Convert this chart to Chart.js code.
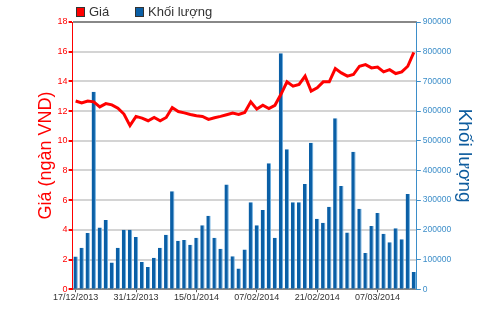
<!DOCTYPE html>
<html lang="vi">
<head>
<meta charset="UTF-8">
<title>Giá và khối lượng</title>
<script src="https://cdn.jsdelivr.net/npm/chart.js"></script>
<style>
  body { margin: 0; background: #fff; }
  .wrap { position: relative; width: 500px; height: 312px; }
  .legend { position: absolute; top: 4px; font: 13px "Liberation Sans", Arial, sans-serif; color: #333; display: flex; align-items: center; }
  .legend i { display: inline-block; width: 7px; height: 8px; border: 1px solid #333; margin-right: 4px; }
</style>
</head>
<body>
<div class="wrap">
  <canvas id="priceChart" width="500" height="312"></canvas>
  <div class="legend" style="left:76px"><i style="background:#ff0000"></i>Giá</div>
  <div class="legend" style="left:135px"><i style="background:#0a5fa6"></i>Khối lượng</div>
</div>

<script>
// trading days shown on the x axis (every 10th gets a label)
const dates = [
  "17/12/2013", "18/12/2013", "19/12/2013", "20/12/2013", "23/12/2013", "24/12/2013", "25/12/2013", "26/12/2013", "27/12/2013", "30/12/2013",
  "31/12/2013", "02/01/2014", "03/01/2014", "06/01/2014", "07/01/2014", "08/01/2014", "09/01/2014", "10/01/2014", "13/01/2014", "14/01/2014",
  "15/01/2014", "16/01/2014", "17/01/2014", "20/01/2014", "21/01/2014", "22/01/2014", "23/01/2014", "24/01/2014", "27/01/2014", "28/01/2014",
  "07/02/2014", "10/02/2014", "11/02/2014", "12/02/2014", "13/02/2014", "14/02/2014", "17/02/2014", "18/02/2014", "19/02/2014", "20/02/2014",
  "21/02/2014", "24/02/2014", "25/02/2014", "26/02/2014", "27/02/2014", "28/02/2014", "03/03/2014", "04/03/2014", "05/03/2014", "06/03/2014",
  "07/03/2014", "10/03/2014", "11/03/2014", "12/03/2014", "13/03/2014", "14/03/2014", "17/03/2014"
];

// price (thousand VND)
const price = [
  12.68, 12.55, 12.68, 12.62, 12.28, 12.5, 12.42, 12.2, 11.8, 11.02,
  11.64, 11.53, 11.35, 11.57, 11.35, 11.57, 12.24, 11.97, 11.88, 11.77,
  11.68, 11.64, 11.44, 11.55, 11.64, 11.75, 11.86, 11.77, 11.9, 12.62,
  12.13, 12.39, 12.17, 12.39, 13.13, 13.97, 13.68, 13.79, 14.35, 13.35,
  13.57, 13.97, 13.97, 14.86, 14.57, 14.35, 14.46, 15.02, 15.13, 14.91,
  14.97, 14.64, 14.79, 14.53, 14.64, 15.02, 15.95
];

// traded volume
const volume = [
  110000, 140000, 189000, 665000, 208000, 233000, 90000, 140000, 200000, 200000,
  176000, 92000, 75000, 106000, 140000, 183000, 330000, 163000, 166000, 150000,
  173000, 215000, 247000, 173000, 136000, 353000, 111000, 70000, 134000, 293000,
  215000, 267000, 424000, 173000, 795000, 471000, 293000, 293000, 354000, 493000,
  237000, 224000, 278000, 576000, 348000, 191000, 463000, 271000, 122000, 213000,
  257000, 187000, 158000, 205000, 168000, 321000, 58000
];

const tickFont = "'Liberation Sans', Arial, sans-serif";

const ctx = document.getElementById("priceChart").getContext("2d");
new Chart(ctx, {
    type: "bar",
    data: {
        labels: dates,
        datasets: [
            {
                type: "line",
                label: "Giá",
                data: price,
                yAxisID: "y",
                borderColor: "#ff0000",
                borderWidth: 3,
                pointRadius: 0,
                tension: 0,
                order: 0
            },
            {
                label: "Khối lượng",
                data: volume,
                yAxisID: "y1",
                backgroundColor: "#0a5fa6",
                borderColor: "#6aaee0",
                borderWidth: { left: 0, right: 1, top: 0, bottom: 0 },
                barPercentage: 0.72,
                categoryPercentage: 1,
                order: 1
            }
        ]
    },
    options: {
        responsive: false,
        animation: false,
        layout: { padding: { top: 22, left: 35, right: 24, bottom: 9 } },
        plugins: {
            legend: { display: false },
            tooltip: { enabled: false }
        },
        scales: {
            x: {
                offset: true,
                grid: {
                    offset: false,
                    drawOnChartArea: false,
                    tickLength: 3,
                    tickColor: "#555"
                },
                border: { color: "#888", width: 2 },
                ticks: {
                    autoSkip: false,
                    maxRotation: 0,
                    padding: 0,
                    color: "#333",
                    font: { family: tickFont, size: 9 },
                    callback: (v, i) => (i % 10 === 0 ? dates[i] : null)
                }
            },
            y: {
                position: "left",
                min: 0,
                max: 18,
                ticks: { stepSize: 2, color: "#ff0000", padding: 1, font: { family: tickFont, size: 9 } },
                grid: {
                    color: c => (c.tick && c.tick.value === 18 ? "#888" : "#d4d4d4"),
                    lineWidth: 2,
                    tickColor: "#ff0000",
                    tickLength: 4
                },
                border: { color: "#ff0000", width: 1 },
                title: {
                    display: true,
                    text: "Giá (ngàn VND)",
                    color: "#ff0000",
                    font: { family: "'Liberation Sans', Arial, sans-serif", size: 18 },
                    padding: { top: 0, bottom: 0 }
                }
            },
            y1: {
                position: "right",
                min: 0,
                max: 900000,
                ticks: {
                    stepSize: 100000,
                    color: "#3d8ec9",
                    padding: 2,
                    font: { family: tickFont, size: 8.5 },
                    callback: v => String(v)
                },
                grid: { drawOnChartArea: false, tickColor: "#3d8ec9", tickLength: 4 },
                border: { color: "#3d8ec9", width: 1 },
                title: {
                    display: true,
                    text: "Khối lượng",
                    color: "#0e5c9e",
                    font: { family: "'Liberation Sans', Arial, sans-serif", size: 19 },
                    padding: { top: 0, bottom: 0 }
                }
            }
        }
    }
});
</script>
</body>
</html>
